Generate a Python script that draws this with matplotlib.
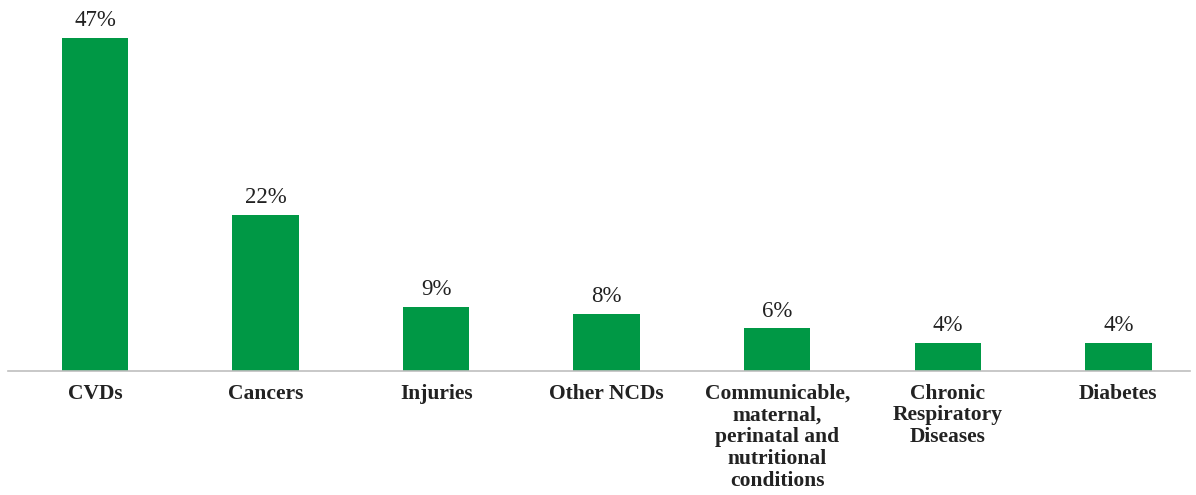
import matplotlib.pyplot as plt

categories = ['CVDs', 'Cancers', 'Injuries', 'Other NCDs',
              'Communicable,\nmaternal,\nperinatal and\nnutritional\nconditions',
              'Chronic\nRespiratory\nDiseases', 'Diabetes']
shares = [47, 22, 9, 8, 6, 4, 4]

BAR_COLOR = '#009845'
plt.rcParams['font.family'] = ['Liberation Serif', 'DejaVu Serif']

fig = plt.figure(figsize=(11.96, 4.95), dpi=100)
ax = fig.add_axes([8 / 1196, 0.2505, 1182 / 1196, 0.7164])

x = list(range(len(categories)))
bars = ax.bar(x, shares, width=0.39, color=BAR_COLOR)
for rect, val in zip(bars, shares):
    ax.annotate(f'{val}%', (rect.get_x() + rect.get_width() / 2, rect.get_height()),
                xytext=(0, 5), textcoords='offset points', ha='center', va='bottom',
                fontsize=16.5, color='#222222')

ax.set_xlim(-0.51, 6.42)
ax.set_ylim(0, 50)
ax.set_xticks(x)
ax.set_xticklabels(categories, fontsize=15.5, fontweight='bold', color='#222222',
                   linespacing=1.12)
ax.tick_params(axis='x', length=0, pad=9)
ax.set_yticks([])
for side in ['top', 'right', 'left']:
    ax.spines[side].set_visible(False)
ax.spines['bottom'].set_color('#bfbfbf')
ax.spines['bottom'].set_linewidth(1.2)

fig.savefig('out.png', dpi=100)
